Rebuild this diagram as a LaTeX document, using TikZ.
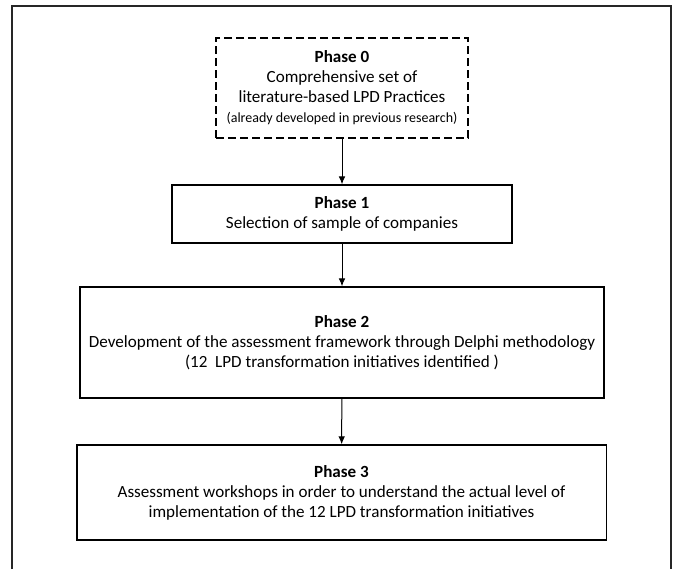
\documentclass[tikz,border=0pt]{standalone}
\usepackage{fontspec}
\setmainfont{Carlito}
\usetikzlibrary{arrows.meta}
\begin{document}
\begin{tikzpicture}[x=0.75pt,y=-0.75pt,
  phasebox/.style={draw=black, line width=1pt, align=center, inner sep=0pt,
    font=\fontsize{12.8}{15}\selectfont},
  conn/.style={-{Latex[length=6pt,width=5pt]}, line width=0.75pt}]
\useasboundingbox (0,0) rectangle (677,569);
\draw[line width=1.1pt, black!85] (12,569) -- (12,6) -- (671,6) -- (671,569);
\node[phasebox, dash pattern=on 6pt off 3pt, minimum width=189pt, minimum height=75pt] (p0) at (342,88)
  {\textbf{Phase 0}\\Comprehensive set of\\literature-based LPD Practices\\{\fontsize{10.5}{12.5}\selectfont (already developed in previous research)}};
\node[phasebox, minimum width=255pt, minimum height=43.5pt] (p1) at (342,214)
  {\textbf{Phase 1}\\Selection of sample of companies};
\node[phasebox, minimum width=393pt, minimum height=83.25pt] (p2) at (342,342.5)
  {\textbf{Phase 2}\\Development of the assessment framework through Delphi methodology\\(12\ \ LPD transformation initiatives identified )};
\node[phasebox, minimum width=397pt, minimum height=71.25pt] (p3) at (341.5,492.5)
  {\textbf{Phase 3}\\Assessment workshops in order to understand the actual level of\\implementation of the 12 LPD transformation initiatives};
\draw[conn] (p0) -- (p1);
\draw[conn] (p1) -- (p2);
\draw[conn] (p2) -- (p3);
\end{tikzpicture}
\end{document}
